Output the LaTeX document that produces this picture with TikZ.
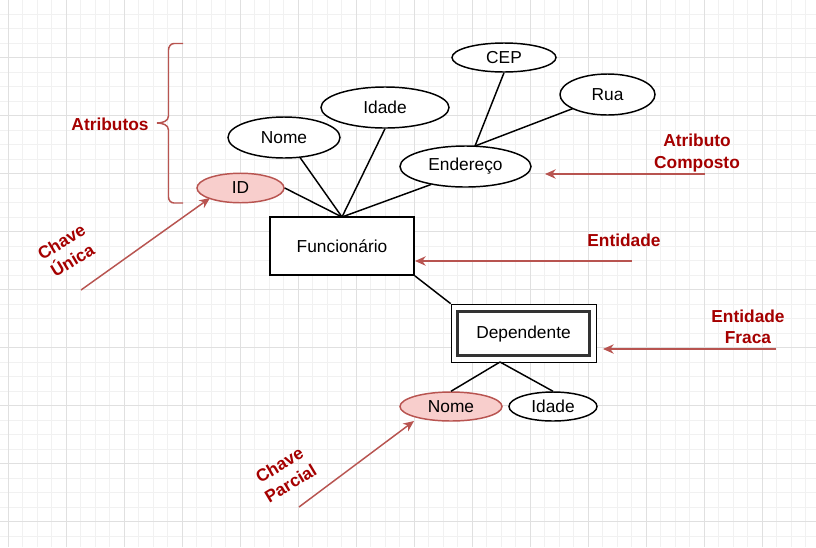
\documentclass[tikz,border=0pt]{standalone}
\usepackage{fontspec}
\setmainfont{Liberation Sans}
\usetikzlibrary{arrows.meta,shapes.geometric,decorations.pathreplacing}
\definecolor{gridmaj}{HTML}{E0E0E0}
\definecolor{gridmin}{HTML}{F1F1F1}
\definecolor{keyfill}{HTML}{F8CECC}
\definecolor{keyline}{HTML}{B85450}
\definecolor{lbl}{HTML}{A50000}
\definecolor{innerline}{HTML}{333333}
\begin{document}
\begin{tikzpicture}[x=0.75pt,y=-0.75pt,
  every node/.style={font=\fontsize{13}{16}\selectfont, inner sep=0pt},
  attr/.style={ellipse, draw=black, line width=1.1pt, fill=white},
  keyattr/.style={ellipse, draw=keyline, line width=1.1pt, fill=keyfill},
  entity/.style={rectangle, draw=black, line width=1.3pt, fill=white},
  innerbox/.style={rectangle, draw=innerline, line width=2pt, fill=white},
  link/.style={draw=black, line width=1.1pt},
  note/.style={draw=keyline, line width=1.1pt, -{Stealth[length=8pt,width=7pt,inset=2.5pt]}},
  lab/.style={text=lbl, font=\fontsize{13}{16}\selectfont\bfseries, align=center}
]
\useasboundingbox (0,0) rectangle (816,547);
\fill[white] (0,0) rectangle (816,547);
% grid
\foreach \k in {0,...,56} {
  \pgfmathsetmacro{\xx}{8.3+14.5*\k}
  \draw[gridmin, line width=0.6pt] (\xx,0) -- (\xx,547);
}
\foreach \k in {0,...,38} {
  \pgfmathsetmacro{\yy}{14.0+14.5*\k}
  \draw[gridmin, line width=0.6pt] (0,\yy) -- (816,\yy);
}
\foreach \k in {0,...,14} {
  \pgfmathsetmacro{\xx}{8.3+58*\k}
  \draw[gridmaj, line width=0.75pt] (\xx,0) -- (\xx,547);
}
\foreach \k in {0,...,9} {
  \pgfmathsetmacro{\yy}{57.5+58*\k}
  \draw[gridmaj, line width=0.75pt] (0,\yy) -- (816,\yy);
}

% entities
\node[entity, minimum width=144*0.75pt, minimum height=58*0.75pt] (func) at (342,246) {Funcionário};
\node[entity, minimum width=145*0.75pt, minimum height=58*0.75pt] (depo) at (524,333.5) {};
\node[innerbox, minimum width=131.5*0.75pt, minimum height=44*0.75pt] (dep) at (523.5,333.7) {Dependente};

% attributes
\node[keyattr, minimum width=87*0.75pt, minimum height=29.5*0.75pt] (id) at (240.5,188) {ID};
\node[attr, minimum width=112*0.75pt, minimum height=41*0.75pt] (nome) at (284,137.5) {Nome};
\node[attr, minimum width=128*0.75pt, minimum height=41*0.75pt] (idade) at (385,107.5) {Idade};
\node[attr, minimum width=104*0.75pt, minimum height=29*0.75pt] (cep) at (504,57.5) {CEP};
\node[attr, minimum width=95*0.75pt, minimum height=41*0.75pt] (rua) at (607.5,94.5) {Rua};
\node[attr, minimum width=131*0.75pt, minimum height=41*0.75pt] (end) at (465.5,166.5) {Endereço};
\node[keyattr, minimum width=102*0.75pt, minimum height=29*0.75pt] (nomed) at (451,406.5) {Nome};
\node[attr, minimum width=88*0.75pt, minimum height=29*0.75pt] (idaded) at (553,406.5) {Idade};

% connectors
\coordinate (ftop) at (342,217);
\coordinate (etop) at (475,146);
\coordinate (dbot) at (500,362);
\draw[link] (id.east) -- (ftop);
\draw[link] (300,157.5) -- (ftop);
\draw[link] (idade.south) -- (ftop);
\draw[link] (431,184.5) -- (ftop);
\draw[link] (cep.south) -- (etop);
\draw[link] (573,108.5) -- (etop);
\draw[link] (func.south east) -- (depo.north west);
\draw[link] (dbot) -- (nomed.north);
\draw[link] (dbot) -- (idaded.north);

% brace
\draw[keyline, line width=1.1pt] (183,43.5) -- (174,43.5) to[out=180,in=90] (168.5,50) -- (168.5,116) to[out=-90,in=0] (157,123) to[out=0,in=90] (168.5,130) -- (168.5,197) to[out=-90,in=180] (174,203) -- (183,203);

% labels
\node[lab] (tatr) at (110,124) {Atributos};
\node[lab, rotate=31] (tchu) at (67,251) {Chave\\Única};
\node[lab, rotate=31] (tchp) at (285,474) {Chave\\Parcial};
\node[lab] (tcomp) at (697,153) {Atributo\\Composto};
\node[lab] (tent) at (624,240) {Entidade};
\node[lab] (tfraca) at (748,327) {Entidade\\Fraca};

% annotation arrows
\coordinate (a1s) at (81,290);
\coordinate (a2s) at (299,507);
\coordinate (a3s) at (705,174);
\coordinate (a4s) at (632,261);
\coordinate (a5s) at (776,349);
\draw[note] (a1s) -- (210,198);
\draw[note] (a2s) -- (414,421);
\draw[note] (a3s) -- (545,174);
\draw[note] (a4s) -- (415,261);
\draw[note] (a5s) -- (603,349);
\end{tikzpicture}
\end{document}
